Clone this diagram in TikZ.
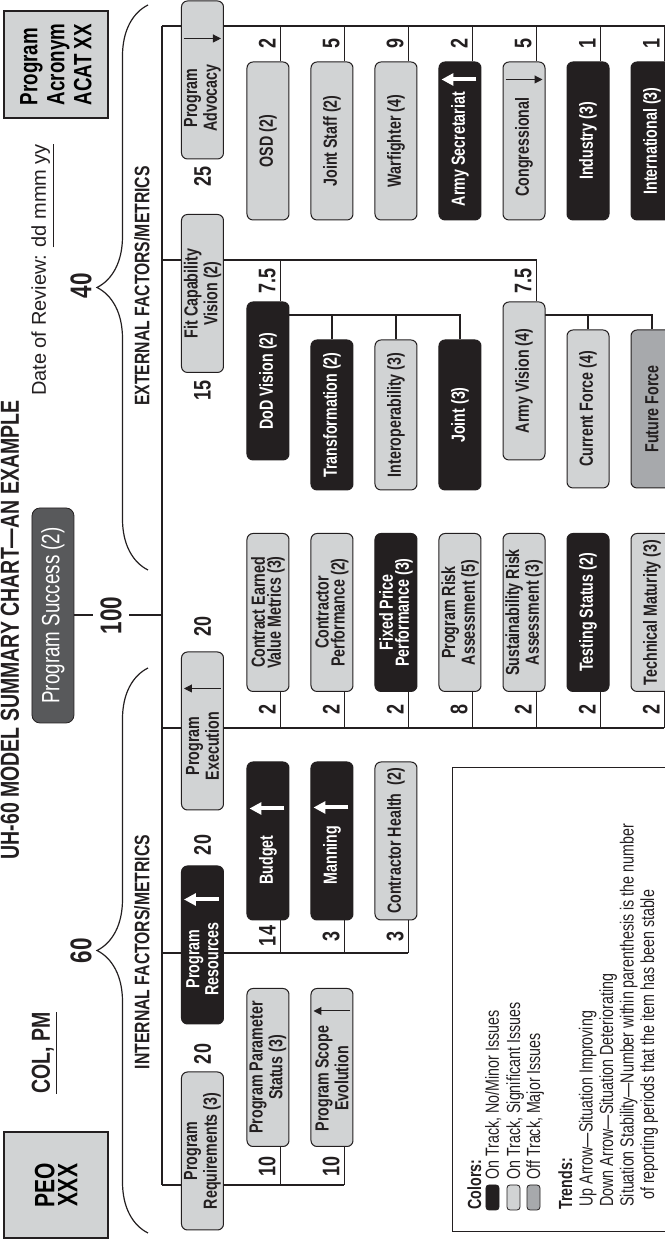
\documentclass[tikz,border=0pt]{standalone}
\usepackage{fontspec}
\setmainfont{Liberation Sans}
\newfontfamily\condfont{Liberation Sans}[FakeStretch=0.75]
\usetikzlibrary{arrows.meta,calc,backgrounds,decorations.pathreplacing}

\definecolor{boxlight}{RGB}{209,211,212}
\definecolor{boxmid}{RGB}{167,169,172}
\definecolor{boxdark}{RGB}{35,31,32}
\definecolor{succgray}{RGB}{88,89,91}

\tikzset{
  mbox/.style={draw=boxdark, line width=0.5pt, rounded corners=3pt,
    minimum width=79pt, minimum height=21pt, inner sep=1pt, align=center,
    font=\condfont\bfseries\fontsize{9.5}{8}\selectfont},
  lbox/.style={mbox, fill=boxlight, text=boxdark},
  kbox/.style={mbox, fill=boxdark, text=white},
  gbox/.style={mbox, fill=boxmid, text=boxdark},
  btxt/.style={inner sep=0pt, align=center, text=boxdark,
    font=\condfont\bfseries\fontsize{9.5}{8}\selectfont},
  hdbox/.style={draw=boxdark, line width=1pt, fill=boxlight,
    minimum width=53pt, minimum height=52pt, inner sep=2pt,
    font=\condfont\bfseries\fontsize{14}{11.5}\selectfont},
  wgt/.style={inner sep=0pt, text=boxdark,
    font=\condfont\bfseries\fontsize{12}{12}\selectfont},
  bignum/.style={inner sep=3.5pt, text=boxdark,
    font=\condfont\bfseries\fontsize{15}{15}\selectfont},
  factor/.style={inner sep=0pt, text=boxdark,
    font=\condfont\bfseries\fontsize{10.5}{12}\selectfont},
  link/.style={draw=boxdark, line width=0.75pt},
  bus/.style={draw=boxdark, line width=1pt},
  brc/.style={draw=boxdark, line width=0.6pt, decorate,
    decoration={brace, amplitude=25.5pt}},
  upw/.style={draw=white, line width=2pt, -{Triangle[length=6pt,width=6pt]}},
  trendarr/.style={draw=boxdark, line width=0.5pt, -{Triangle[length=4pt,width=4pt]}},
  lgtxt/.style={anchor=base west, inner sep=0pt, text=boxdark,
    font=\condfont\fontsize{9.5}{10}\selectfont},
  swatch/.style={draw=boxdark, line width=0.4pt, rounded corners=1.5pt,
    minimum width=12.5pt, minimum height=6.5pt, inner sep=0pt},
}

\begin{document}
\begin{tikzpicture}[x=0.5pt, y=0.5pt, rotate=90, transform shape]
  \useasboundingbox (0,0) rectangle (1241,664);

  % header
  \node[anchor=base, text=boxdark, font=\condfont\bfseries\fontsize{13}{14}\selectfont]
    (title) at (611,645) {UH-60 MODEL SUMMARY CHART—AN EXAMPLE};
  \node[hdbox, align=center] (peo) at (56,608) {PEO\\XXX};
  \node[hdbox, minimum width=53.5pt, align=left,
    font=\condfont\bfseries\fontsize{12.5}{13.5}\selectfont] (acat) at (1176.5,608) {Program\\Acronym\\ACAT XX};
  \node[anchor=base, text=boxdark, font=\condfont\bfseries\fontsize{13}{15}\selectfont]
    (colpm) at (188,614) {\underline{COL, PM}};
  \node[anchor=base west, text=boxdark, font=\fontsize{10}{12}\selectfont]
    (review) at (838,618) {Date of Review: \underline{dd mmm yy}};
  \node[draw=boxdark, fill=succgray, text=white, rounded corners=4pt,
    minimum width=107.5pt, minimum height=21pt,
    font=\condfont\fontsize{12.5}{14}\selectfont] (ps) at (625.5,611) {Program Success (2)};
  \node[bignum] (w100) at (625.5,553) {100};
  \node[bignum] (w60) at (290,583) {60};
  \node[bignum] (w40) at (955,583) {40};

  % braces
  \coordinate (ibl) at (8,516);
  \coordinate (ibr) at (573,516);
  \coordinate (ebl) at (671,516);
  \coordinate (ebr) at (1236,516);
  \draw[brc] (ibl) -- (ibr);
  \draw[brc] (ebl) -- (ebr);
  \node[factor] (intf) at (289,522) {INTERNAL FACTORS/METRICS};
  \node[factor] (extf) at (955,522) {EXTERNAL FACTORS/METRICS};

  % factor boxes
  \node[lbox] (preq) at (90,461.5) {Program\\Requirements (3)};
  \node[kbox] (pres) at (296,461.5) {};
  \node[btxt, text=white] (presT) at ($(pres)+(-14,0)$) {Program\\Resources};
  \node[lbox] (pexe) at (510,461.5) {};
  \node[btxt] (pexeT) at ($(pexe)+(-15,0)$) {Program\\Execution};
  \node[lbox] (pfit) at (947.5,461.5) {Fit Capability\\Vision (2)};
  \node[lbox] (padv) at (1161,461.5) {};
  \node[btxt] (padvT) at ($(padv)+(-18,0)$) {Program\\Advocacy};

  \node[wgt] (wreq) at (187,461.5) {20};
  \node[wgt] (wres) at (396,461.5) {20};
  \node[wgt] (wexe) at (614,461.5) {20};
  \node[wgt] (wfit) at (850,461.5) {15};
  \node[wgt] (wadv) at (1064,461.5) {25};

  % program requirements
  \node[lbox] (pps) at (173.5,396) {Program Parameter\\Status (3)};
  \node[lbox] (pse) at (173.5,332) {};
  \node[btxt] (pseT) at ($(pse)+(-11,0)$) {Program Scope\\Evolution};

  % program resources
  \node[kbox] (budget) at (400,396) {};
  \node[btxt, text=white] (budgetT) at ($(budget)+(-19,0)$) {Budget};
  \node[kbox] (manning) at (400,332) {};
  \node[btxt, text=white] (manningT) at ($(manning)+(-14,0)$) {Manning};
  \node[lbox] (chealth) at (400,268) {Contractor Health\ \ (2)};

  % program execution
  \node[lbox] (cevm) at (628.5,396) {Contract Earned\\Value Metrics (3)};
  \node[lbox] (cperf) at (628.5,332) {Contractor\\Performance (2)};
  \node[kbox] (fpp) at (628.5,268) {Fixed Price\\Performance (3)};
  \node[lbox] (pra) at (628.5,204) {Program Risk\\Assessment (5)};
  \node[lbox] (sra) at (628.5,140) {Sustainability Risk\\Assessment (3)};
  \node[kbox] (tstat) at (628.5,76) {Testing Status (2)};
  \node[lbox] (tmat) at (628.5,12) {Technical Maturity (3)};

  % fit capability vision
  \node[kbox] (dod) at (860,396) {DoD Vision (2)};
  \node[kbox, minimum width=75pt] (transf) at (826,332) {Transformation (2)};
  \node[lbox, minimum width=75pt] (interop) at (826,268) {Interoperability (3)};
  \node[kbox, minimum width=75pt] (joint) at (826,204) {Joint (3)};
  \node[lbox] (army) at (860,140) {Army Vision (4)};
  \node[lbox] (curf) at (832,76) {Current Force (4)};
  \node[gbox] (futf) at (832,12) {Future Force};

  % program advocacy
  \node[lbox] (osd) at (1100,396) {OSD (2)};
  \node[lbox] (jstaff) at (1100,332) {Joint Staff (2)};
  \node[lbox] (wfight) at (1100,268) {Warfighter (4)};
  \node[kbox] (armysec) at (1100,204) {};
  \node[btxt, text=white] (armysecT) at ($(armysec)+(-8,0)$) {Army Secretariat};
  \node[lbox] (congr) at (1100,140) {};
  \node[btxt] (congrT) at ($(congr)+(-6,0)$) {Congressional};
  \node[kbox] (indus) at (1100,76) {Industry (3)};
  \node[kbox] (intl) at (1100,12) {International (3)};

  % trend arrows
  \draw[upw] ($(pres.south east)+(-34,5)$) -- ($(pres.north east)+(-34,-3)$);
  \draw[upw] ($(budget.south east)+(-47,5)$) -- ($(budget.north east)+(-47,-3)$);
  \draw[upw] ($(manning.south east)+(-46,5)$) -- ($(manning.north east)+(-46,-3)$);
  \draw[upw] ($(armysec.south east)+(-18,5)$) -- ($(armysec.north east)+(-18,-3)$);
  \draw[trendarr] ($(pexe.south east)+(-37,3)$) -- ($(pexe.north east)+(-37,-3)$);
  \draw[trendarr] ($(pse.south east)+(-23,3)$) -- ($(pse.north east)+(-23,-3)$);
  \draw[trendarr] ($(padv.north east)+(-38,-3)$) -- ($(padv.south east)+(-38,3)$);
  \draw[trendarr] ($(congr.north east)+(-18,-3)$) -- ($(congr.south east)+(-18,3)$);

  % sub weights
  \node[wgt, anchor=south] (n-pps) at (75,388) {10};
  \node[wgt, anchor=south] (n-pse) at (75,324) {10};
  \node[wgt, anchor=south] (n-bud) at (305,388) {14};
  \node[wgt, anchor=south] (n-man) at (305,324) {3};
  \node[wgt, anchor=south] (n-chl) at (305,260) {3};
  \node[wgt, anchor=south] (n-cev) at (531,388) {2};
  \node[wgt, anchor=south] (n-cpf) at (531,324) {2};
  \node[wgt, anchor=south] (n-fpp) at (531,260) {2};
  \node[wgt, anchor=south] (n-pra) at (531,196) {8};
  \node[wgt, anchor=south] (n-sra) at (531,132) {2};
  \node[wgt, anchor=south] (n-tst) at (531,68) {2};
  \node[wgt, anchor=south] (n-tmt) at (531,4) {2};
  \node[wgt, anchor=south] (n-dod) at (960,388) {7.5};
  \node[wgt, anchor=south] (n-arm) at (960,132) {7.5};
  \node[wgt, anchor=south] (n-osd) at (1197,388) {2};
  \node[wgt, anchor=south] (n-jst) at (1197,324) {5};
  \node[wgt, anchor=south] (n-wft) at (1197,260) {9};
  \node[wgt, anchor=south] (n-asc) at (1197,196) {2};
  \node[wgt, anchor=south] (n-cng) at (1197,132) {5};
  \node[wgt, anchor=south] (n-ind) at (1197,68) {1};
  \node[wgt, anchor=south] (n-itl) at (1197,4) {1};

  % tree lines
  \coordinate (busA) at (56,502);
  \coordinate (busB) at (288,502);
  \coordinate (busC) at (513,502);
  \coordinate (busS) at (625.5,502);
  \coordinate (busD) at (981,502);
  \coordinate (busE) at (1215,502);
  \coordinate (endA) at (56,320);
  \coordinate (endB) at (288,256);
  \coordinate (endC) at (513,0);
  \coordinate (endD) at (981,128);
  \coordinate (endE) at (1215,0);
  \coordinate (dodA) at (926,375);
  \coordinate (dodB) at (926,204);
  \coordinate (armA) at (926,119);
  \coordinate (armB) at (926,12);
  \begin{scope}[on background layer]
    \draw[bus] (busA) -- (busE);
    \draw[bus] (busA) -- (endA);
    \draw[bus] (busB) -- (endB);
    \draw[bus] (busC) -- (endC);
    \draw[bus] (busD) -- (endD);
    \draw[bus] (busE) -- (endE);
    \draw[bus] (ps) -- (w100);
    \draw[bus] (w100) -- (busS);
    \foreach \s in {pps,pse}
      \draw[link] ($(\s.south west)+(0,9)$) -- ++(-38,0);
    \foreach \s in {budget,manning,chealth}
      \draw[link] ($(\s.south west)+(0,9)$) -- ++(-33,0);
    \foreach \s in {cevm,cperf,fpp,pra,sra,tstat,tmat}
      \draw[link] ($(\s.south west)+(0,9)$) -- ++(-36,0);
    \foreach \s in {osd,jstaff,wfight,armysec,congr,indus,intl}
      \draw[link] ($(\s.south east)+(0,9)$) -- ++(36,0);
    \foreach \s in {dod,army}
      \draw[link] ($(\s.south east)+(0,9)$) -- ++(42,0);
    \draw[link] (dodA) -- (dodB);
    \draw[link] (armA) -- (armB);
    \foreach \s in {transf,interop,joint}
      \draw[link] (\s.east) -- ++(25,0);
    \foreach \s in {curf,futf}
      \draw[link] (\s.east) -- ++(15,0);
  \end{scope}

  % legend
  \node[draw=boxdark, line width=0.5pt, minimum width=232pt, minimum height=111pt,
    anchor=north west, inner sep=0pt] (legend) at (9,212) {};
  \node[lgtxt, font=\condfont\bfseries\fontsize{9.5}{10}\selectfont] (lgcol) at (31,183) {Colors:};
  \node[swatch, fill=boxdark] (sw1) at (43.5,171.5) {};
  \node[swatch, fill=boxlight] (sw2) at (43.5,150.5) {};
  \node[swatch, fill=boxmid] (sw3) at (43.5,130.5) {};
  \node[lgtxt] (lg1) at (61,165) {On Track, No/Minor Issues};
  \node[lgtxt] (lg2) at (61,144) {On Track, Significant Issues};
  \node[lgtxt] (lg3) at (61,124) {Off Track, Major Issues};
  \node[lgtxt, font=\condfont\bfseries\fontsize{9.5}{10}\selectfont] (lgtr) at (31,92) {Trends:};
  \node[lgtxt] (lg4) at (34,71.5) {Up Arrow—Situation Improving};
  \node[lgtxt] (lg5) at (34,51) {Down Arrow—Situation Deteriorating};
  \node[lgtxt] (lg6) at (34,30.5) {Situation Stability—Number within parenthesis is the number};
  \node[lgtxt] (lg7) at (41,10) {of reporting periods that the item has been stable};
\end{tikzpicture}
\end{document}
